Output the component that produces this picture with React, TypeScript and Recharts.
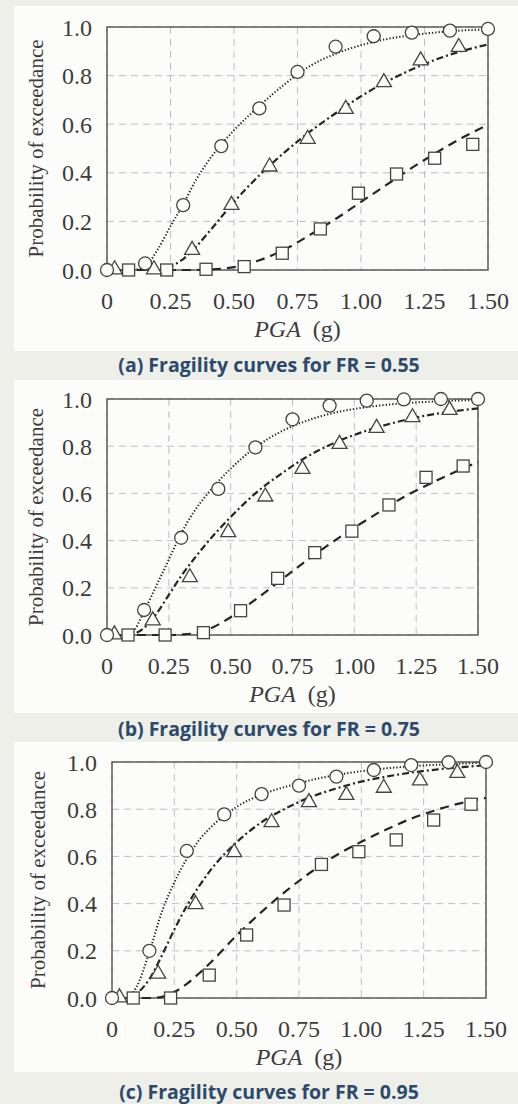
import React from "react";
import {
  ComposedChart,
  Line,
  Scatter,
  XAxis,
  YAxis,
  CartesianGrid,
  ReferenceArea,
  Label,
} from "recharts";

// marker positions (PGA, g)
const circleX = [0, 0.15, 0.3, 0.45, 0.6, 0.75, 0.9, 1.05, 1.2, 1.35, 1.5];
const triangleX = [0.03, 0.185, 0.335, 0.49, 0.64, 0.79, 0.94, 1.09, 1.235, 1.385];
const squareX = [0.085, 0.235, 0.39, 0.54, 0.69, 0.84, 0.99, 1.14, 1.29, 1.44];

// PGA values where the fitted curves were read
const curveX = [0, 0.05, 0.1, 0.15, 0.2, 0.25, 0.3, 0.35, 0.4, 0.5, 0.6, 0.7, 0.8, 0.9, 1.0, 1.1, 1.2, 1.3, 1.4, 1.5];

// (a) FR = 0.55
const circleA = [0, 0.027, 0.267, 0.51, 0.665, 0.815, 0.919, 0.962, 0.977, 0.985, 0.992];
const triangleA = [0.005, 0.005, 0.085, 0.27, 0.428, 0.542, 0.665, 0.775, 0.865, 0.92];
const squareA = [0, 0, 0.003, 0.014, 0.069, 0.169, 0.316, 0.395, 0.46, 0.517];
const dottedA = [0, 0, 0, 0.015, 0.085, 0.18, 0.27, 0.37, 0.45, 0.575, 0.675, 0.765, 0.84, 0.89, 0.925, 0.95, 0.966, 0.978, 0.986, 0.99];
const dashDotA = [0, 0, 0, 0, 0.003, 0.015, 0.045, 0.095, 0.155, 0.28, 0.39, 0.485, 0.57, 0.645, 0.715, 0.775, 0.825, 0.868, 0.902, 0.928];
const dashedA = [0, 0, 0, 0, 0, 0, 0, 0, 0.002, 0.012, 0.04, 0.085, 0.145, 0.21, 0.28, 0.35, 0.42, 0.485, 0.545, 0.598];

// (b) FR = 0.75
const circleB = [0, 0.106, 0.412, 0.619, 0.795, 0.914, 0.972, 0.993, 0.998, 1.0, 1.0];
const triangleB = [0.005, 0.064, 0.247, 0.438, 0.589, 0.706, 0.812, 0.88, 0.925, 0.956];
const squareB = [0, 0, 0.01, 0.103, 0.24, 0.349, 0.44, 0.551, 0.668, 0.716];
const dottedB = [0, 0, 0.01, 0.1, 0.21, 0.32, 0.43, 0.52, 0.59, 0.705, 0.795, 0.86, 0.905, 0.937, 0.958, 0.972, 0.982, 0.988, 0.993, 0.996];
const dashDotB = [0, 0, 0.003, 0.03, 0.09, 0.17, 0.25, 0.32, 0.385, 0.5, 0.6, 0.68, 0.75, 0.805, 0.848, 0.882, 0.91, 0.932, 0.948, 0.96];
const dashedB = [0, 0, 0, 0, 0, 0, 0.002, 0.007, 0.02, 0.075, 0.15, 0.23, 0.31, 0.385, 0.455, 0.52, 0.585, 0.638, 0.687, 0.733];

// (c) FR = 0.95
const circleC = [0, 0.2, 0.623, 0.778, 0.864, 0.9, 0.938, 0.966, 0.987, 0.999, 1.0];
const triangleC = [0.005, 0.105, 0.4, 0.62, 0.747, 0.832, 0.863, 0.893, 0.924, 0.956];
const squareC = [0, 0, 0.097, 0.267, 0.394, 0.566, 0.62, 0.67, 0.754, 0.821];
const dottedC = [0, 0, 0.05, 0.195, 0.365, 0.49, 0.59, 0.67, 0.727, 0.81, 0.862, 0.896, 0.924, 0.945, 0.961, 0.973, 0.982, 0.988, 0.993, 0.997];
const dashDotC = [0, 0, 0.02, 0.08, 0.18, 0.29, 0.39, 0.475, 0.548, 0.66, 0.745, 0.805, 0.853, 0.888, 0.917, 0.938, 0.955, 0.968, 0.978, 0.986];
const dashedC = [0, 0, 0, 0, 0.005, 0.025, 0.06, 0.105, 0.155, 0.265, 0.365, 0.455, 0.535, 0.605, 0.662, 0.714, 0.76, 0.797, 0.826, 0.848];

const xTicks = [0, 0.25, 0.5, 0.75, 1.0, 1.25, 1.5];
const yTicks = [0, 0.2, 0.4, 0.6, 0.8, 1.0];

const zip = (xs: number[], ys: number[]) => xs.map((x, i) => ({ x, p: ys[i] }));

const INK = "#262626";
const MARK = "#444";
const TEXT = "#3c3c3c";
const PANEL_BG = "#fcfcfa";
const SERIF = '"Liberation Serif", "Times New Roman", serif';

const CircleMark = (props: any) => (
  <circle cx={props.cx} cy={props.cy} r={6.5} fill={PANEL_BG} stroke={MARK} strokeWidth={1.3} />
);
const TriangleMark = (props: any) => {
  const { cx, cy } = props;
  return (
    <polygon
      points={`${cx},${cy - 8} ${cx - 7.5},${cy + 5} ${cx + 7.5},${cy + 5}`}
      fill={PANEL_BG}
      stroke={MARK}
      strokeWidth={1.3}
    />
  );
};
const SquareMark = (props: any) => (
  <rect x={props.cx - 6} y={props.cy - 6} width={12} height={12} fill={PANEL_BG} stroke={MARK} strokeWidth={1.3} />
);

const tickStyle = { fill: TEXT, fontSize: 24, fontFamily: SERIF };

type PanelProps = {
  top: number;
  height: number;
  margin: { top: number; right: number; bottom: number; left: number };
  yTitleX: number;
  circles: number[];
  triangles: number[];
  squares: number[];
  dotted: number[];
  dashDot: number[];
  dashed: number[];
};

function Panel(p: PanelProps) {
  return (
    <div
      style={{
        position: "absolute",
        left: 14,
        top: p.top,
        width: 504,
        height: p.height,
        background: PANEL_BG,
        fontFamily: SERIF,
      }}
    >
      <ComposedChart width={504} height={p.height} margin={p.margin} style={{ fontFamily: SERIF }}>
        <CartesianGrid stroke="#bdbdd0" strokeDasharray="7 5" />
        <XAxis
          type="number"
          dataKey="x"
          domain={[0, 1.5]}
          ticks={xTicks}
          tickFormatter={(v: number) => (v === 0 ? "0" : v.toFixed(2))}
          axisLine={false}
          tickLine={false}
          tickMargin={16}
          height={50}
          tick={tickStyle}
          interval={0}
        >
          <Label
            content={(lp: any) => {
              const vb = lp.viewBox;
              return (
                <text
                  x={vb.x + vb.width / 2}
                  y={vb.y + 67}
                  textAnchor="middle"
                  fill={TEXT}
                  fontSize={24}
                  fontFamily={SERIF}
                >
                  <tspan fontStyle="italic">PGA</tspan>
                  <tspan dx={12}>(g)</tspan>
                </text>
              );
            }}
          />
        </XAxis>
        <YAxis
          type="number"
          dataKey="p"
          domain={[0, 1]}
          ticks={yTicks}
          tickFormatter={(v: number) => v.toFixed(1)}
          axisLine={false}
          tickLine={false}
          tickMargin={9}
          width={70}
          tick={tickStyle}
          interval={0}
        >
          <Label
            content={(lp: any) => {
              const vb = lp.viewBox;
              const cy = vb.y + vb.height / 2;
              return (
                <text
                  x={p.yTitleX}
                  y={cy}
                  transform={`rotate(-90 ${p.yTitleX} ${cy})`}
                  textAnchor="middle"
                  dominantBaseline="central"
                  fill={TEXT}
                  fontSize={21}
                  fontFamily={SERIF}
                >
                  Probability of exceedance
                </text>
              );
            }}
          />
        </YAxis>
        <ReferenceArea x1={0} x2={1.5} y1={0} y2={1} fill="none" stroke="#5c5c5c" strokeWidth={1.5} ifOverflow="visible" />
        <Line data={zip(curveX, p.dashed)} dataKey="p" type="monotone" stroke={INK} strokeWidth={2.2} strokeDasharray="9 6" dot={false} activeDot={false} isAnimationActive={false} />
        <Line data={zip(curveX, p.dashDot)} dataKey="p" type="monotone" stroke={INK} strokeWidth={2.2} strokeDasharray="7 3 2 3" dot={false} activeDot={false} isAnimationActive={false} />
        <Line data={zip(curveX, p.dotted)} dataKey="p" type="monotone" stroke={INK} strokeWidth={2} strokeDasharray="1.3 2" dot={false} activeDot={false} isAnimationActive={false} />
        <Scatter data={zip(squareX, p.squares)} dataKey="p" shape={SquareMark} isAnimationActive={false} />
        <Scatter data={zip(triangleX, p.triangles)} dataKey="p" shape={TriangleMark} isAnimationActive={false} />
        <Scatter data={zip(circleX, p.circles)} dataKey="p" shape={CircleMark} isAnimationActive={false} />
      </ComposedChart>
    </div>
  );
}

const captionStyle = (center: number): React.CSSProperties => ({
  position: "absolute",
  left: 269,
  top: center - 13,
  transform: "translateX(-50%)",
  whiteSpace: "nowrap",
  lineHeight: "26px",
  fontFamily: '"Open Sans", sans-serif',
  fontWeight: 700,
  fontSize: 19.5,
  color: "#2b4a6d",
});

export default function App() {
  return (
    <div style={{ position: "absolute", left: 0, top: 0, width: 518, height: 1104, background: "#eeefe9", overflow: "hidden" }}>
      <Panel
        top={6}
        height={345}
        margin={{ top: 21, right: 30, bottom: 31, left: 23 }}
        yTitleX={22}
        circles={circleA}
        triangles={triangleA}
        squares={squareA}
        dotted={dottedA}
        dashDot={dashDotA}
        dashed={dashedA}
      />
      <div style={captionStyle(365)}>(a) Fragility curves for FR = 0.55</div>
      <Panel
        top={380}
        height={333}
        margin={{ top: 19, right: 40, bottom: 28, left: 23 }}
        yTitleX={22}
        circles={circleB}
        triangles={triangleB}
        squares={squareB}
        dotted={dottedB}
        dashDot={dashDotB}
        dashed={dashedB}
      />
      <div style={captionStyle(729)}>(b) Fragility curves for FR = 0.75</div>
      <Panel
        top={742}
        height={330}
        margin={{ top: 20, right: 32, bottom: 24, left: 28 }}
        yTitleX={24}
        circles={circleC}
        triangles={triangleC}
        squares={squareC}
        dotted={dottedC}
        dashDot={dashDotC}
        dashed={dashedC}
      />
      <div style={captionStyle(1092)}>(c) Fragility curves for FR = 0.95</div>
    </div>
  );
}
